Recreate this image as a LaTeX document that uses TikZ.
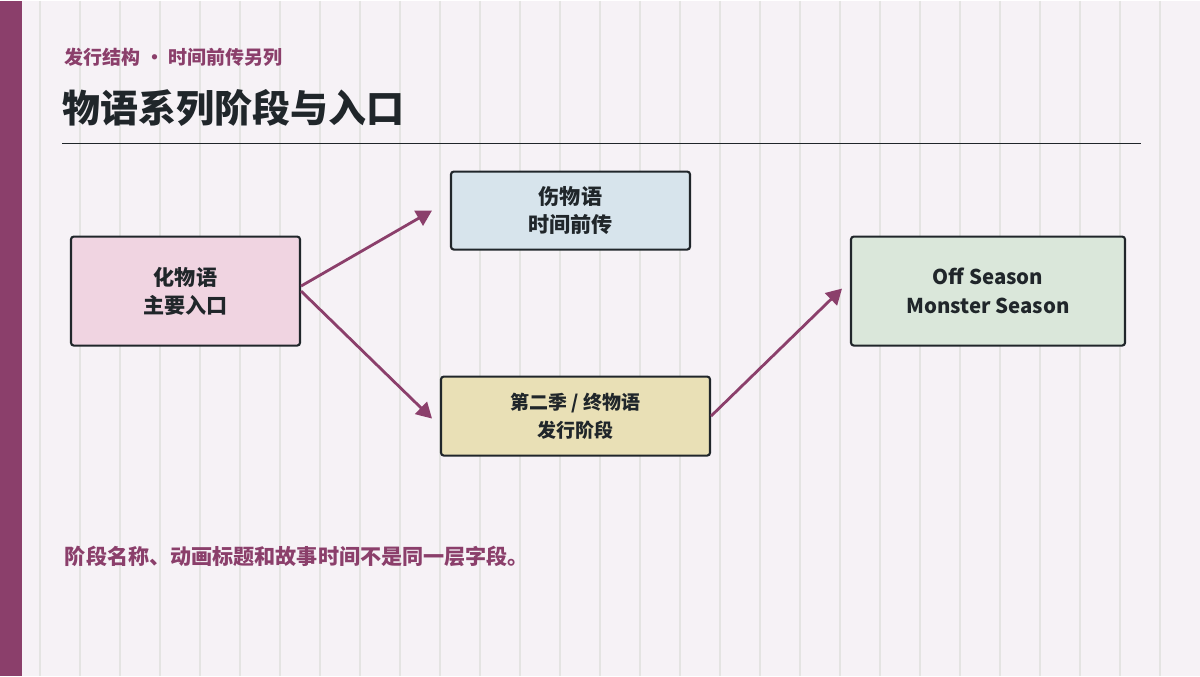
\documentclass[tikz,border=0pt]{standalone}
\usepackage{fontspec}
\setmainfont{Noto Sans CJK SC}
\usetikzlibrary{arrows.meta,positioning}
\definecolor{plum}{HTML}{8B3F6B}
\definecolor{paper}{HTML}{F6F2F6}
\definecolor{grid}{HTML}{E4E4E2}
\definecolor{ink}{HTML}{20262A}
\definecolor{pinkbox}{HTML}{F0D4E1}
\definecolor{bluebox}{HTML}{D7E4EC}
\definecolor{sandbox}{HTML}{E9E0B6}
\definecolor{greenbox}{HTML}{DAE7DA}
\tikzset{
    stage/.style={
        draw=ink,
        line width=1.5pt,
        rounded corners=2pt,
        align=center,
        font=\bfseries\fontsize{15}{20}\selectfont,
        text=ink,
        inner sep=0pt
    },
    flow/.style={
        draw=plum,
        line width=2pt,
        -{Triangle[length=11pt, width=12pt]}
    }
}
\begin{document}
\begin{tikzpicture}[x=0.025cm,y=-0.025cm]
  % Background and grid
  \fill[paper] (0,0) rectangle (1200,675);
  \foreach \gx in {40,80,...,1160} {
    \draw[grid, line width=0.8pt] (\gx,0) -- (\gx,675);
  }
  \fill[plum] (0,0) rectangle (22,675);

  % Heading
  \node[anchor=west, text=plum, font=\bfseries\fontsize{13.5}{16}\selectfont] (kicker) at (60,57) {发行结构 · 时间前传另列};
  \node[anchor=west, text=ink, font=\bfseries\fontsize{27}{32}\selectfont] (title) at (58,107) {物语系列阶段与入口};
  \draw[ink, line width=1.2pt] (62,143) -- (1141,143);

  % Stages
  \node[stage, fill=pinkbox, minimum width=229*0.025cm, minimum height=109*0.025cm] (bake) at (185.5,290.5) {化物语\\主要入口};
  \node[stage, fill=bluebox, minimum width=239*0.025cm, minimum height=78*0.025cm] (kizu) at (570.5,210) {伤物语\\时间前传};
  \node[stage, fill=sandbox, minimum width=269*0.025cm, minimum height=79*0.025cm, font=\bfseries\fontsize{13.5}{20}\selectfont] (owari) at (575.5,415.5) {第二季 / 终物语\\发行阶段};
  \node[stage, fill=greenbox, minimum width=274*0.025cm, minimum height=109*0.025cm, font=\bfseries\fontsize{14.5}{21}\selectfont] (off) at (988,290.5) {Off Season\\Monster Season};

  % Connectors
  \coordinate (kizuin) at (432,210);
  \coordinate (owariin) at (432,418);
  \coordinate (offin) at (842,288);
  \draw[flow] (bake.east) ++(0,-5) -- (kizuin);
  \draw[flow] (bake.east) -- (owariin);
  \draw[flow] (owari.east) -- (offin);

  % Footnote
  \node[anchor=west, text=plum, font=\bfseries\fontsize{15}{18}\selectfont] (note) at (60,556) {阶段名称、动画标题和故事时间不是同一层字段。};
\end{tikzpicture}
\end{document}
